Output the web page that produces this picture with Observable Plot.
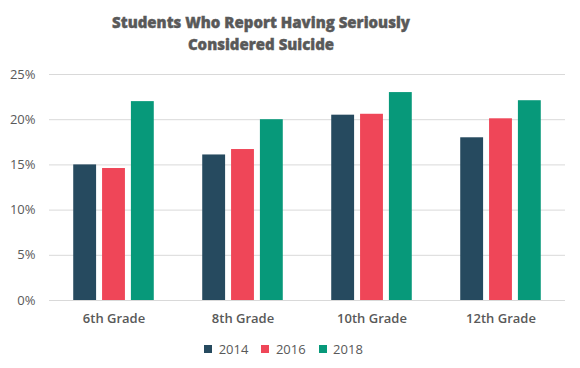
<!DOCTYPE html>
<html>
<head>
<meta charset="utf-8">
<script src="https://cdn.jsdelivr.net/npm/d3@7"></script>
<script src="https://cdn.jsdelivr.net/npm/@observablehq/plot@0.6"></script>
<style>
  html, body { margin: 0; padding: 0; background: #fff; }
  #wrap { width: 580px; height: 368px; overflow: hidden; font-family: "Open Sans", sans-serif; }
  #title { width: 522px; height: 62px; box-sizing: border-box; padding-top: 11px; text-align: center;
           font-family: "Open Sans", sans-serif; font-weight: 800; font-size: 15px; line-height: 22px; color: #595959;
           -webkit-text-stroke: 0.4px #595959; }
  #chart svg { display: block; }
  #legend { display: flex; justify-content: center; }
</style>
</head>
<body>
<div id="wrap">
  <div id="title">Students Who Report Having Seriously<br>Considered Suicide</div>
  <div id="chart"></div>
  <div id="legend"></div>
</div>
<script>
const grades = ["6th Grade", "8th Grade", "10th Grade", "12th Grade"];
const years = ["2014", "2016", "2018"];
const v2014 = [15.0, 16.1, 20.5, 18.0];
const v2016 = [14.6, 16.7, 20.6, 20.1];
const v2018 = [22.0, 20.0, 23.0, 22.1];
const yTicks = [0, 5, 10, 15, 20, 25];
const colors = ["#264A5F", "#EF4658", "#07997A"];

const series = [v2014, v2016, v2018];
const data = grades.flatMap((g, i) => years.map((y, j) => ({grade: g, year: y, value: series[j][i]})));

const plot = Plot.plot({
  width: 580,
  height: 270,
  marginLeft: 47,
  marginRight: 14,
  marginTop: 12,
  marginBottom: 32,
  style: {fontFamily: "'Open Sans', sans-serif", fontSize: "13px", color: "#595959", background: "white"},
  fx: {domain: grades, paddingInner: 0, paddingOuter: 0, label: null},
  x: {domain: years, paddingInner: 0.207, paddingOuter: 0.84, round: false, axis: null},
  y: {domain: [0, 25], label: null},
  color: {domain: years, range: colors},
  marks: [
    Plot.gridY({ticks: yTicks, stroke: "#d9d9d9", strokeOpacity: 1, strokeWidth: 1}),
    Plot.axisY({ticks: yTicks, tickSize: 0, tickPadding: 14, tickFormat: d => d + "%", label: null}),
    Plot.axisFx({anchor: "bottom", tickSize: 0, tickPadding: 13, fontWeight: 600, label: null}),
    Plot.barY(data, {fx: "grade", x: "year", y: "value", fill: "year"})
  ]
});
document.getElementById("chart").appendChild(plot);

const legend = plot.legend("color", {
  swatchSize: 8,
  style: {fontFamily: "'Open Sans', sans-serif", fontSize: "13px", color: "#595959", justifyContent: "center", marginTop: "0px"}
});
document.getElementById("legend").appendChild(legend);
</script>
</body>
</html>
